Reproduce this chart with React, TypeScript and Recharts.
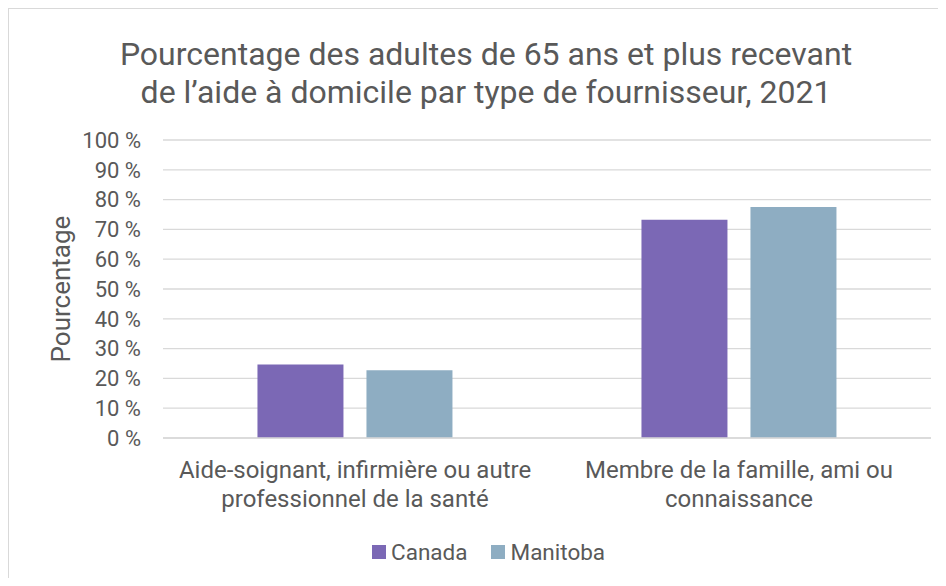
import React from 'react';
import { BarChart, Bar, XAxis, YAxis, CartesianGrid } from 'recharts';

const categories = [
  ['Aide-soignant, infirmière ou autre', 'professionnel de la santé'],
  ['Membre de la famille, ami ou', 'connaissance'],
];
const canadaValues = [24.7, 73.2];
const manitobaValues = [22.7, 77.5];
const yTicks = [0, 10, 20, 30, 40, 50, 60, 70, 80, 90, 100];
const seriesNames = ['Canada', 'Manitoba'];
const seriesColors = ['#7B68B5', '#8EADC2'];

const data = categories.map((c, i) => ({
  name: c.join('\n'),
  Canada: canadaValues[i],
  Manitoba: manitobaValues[i],
}));

const FONT = 'Roboto, sans-serif';
const TEXT = '#595959';

const XTick = (props: any) => {
  const { x, y, payload } = props;
  const lines = String(payload.value).split('\n');
  return (
    <g transform={`translate(${x},${y})`}>
      {lines.map((l, i) => (
        <text key={i} x={0} y={0} dy={40 + i * 29} textAnchor="middle" fill={TEXT} fontSize={24} fontFamily={FONT}>
          {l}
        </text>
      ))}
    </g>
  );
};

export default function App() {
  return (
    <div style={{ position: 'relative', width: 946, height: 586, margin: -8, background: '#fff', overflow: 'hidden' }}>
      <div style={{ position: 'absolute', left: 8, top: 8, width: 960, height: 600, borderLeft: '1px solid #D9D9D9', borderTop: '1px solid #D9D9D9', boxSizing: 'border-box' }} />
      <svg width={946} height={120} style={{ position: 'absolute', left: 0, top: 0 }}>
        <text x={486} y={65} textAnchor="middle" fill={TEXT} fontSize={32} fontFamily={FONT}>
          Pourcentage des adultes de 65 ans et plus recevant
        </text>
        <text x={486} y={103} textAnchor="middle" fill={TEXT} fontSize={32} fontFamily={FONT}>
          de l’aide à domicile par type de fournisseur, 2021
        </text>
      </svg>
      <svg width={60} height={586} style={{ position: 'absolute', left: 30, top: 0 }}>
        <text x={0} y={0} transform="translate(31,289) rotate(-90)" textAnchor="middle" dominantBaseline="central" fill={TEXT} fontSize={26} fontFamily={FONT}>
          Pourcentage
        </text>
      </svg>
      <div style={{ position: 'absolute', left: 0, top: 0 }}>
        <BarChart
          width={946}
          height={586}
          data={data}
          margin={{ top: 140, right: 15, bottom: 118, left: 83 }}
          barCategoryGap="24.6%"
          barGap={23}
        >
          <CartesianGrid vertical={false} stroke="#D9D9D9" strokeWidth={1.3} />
          <XAxis
            dataKey="name"
            axisLine={{ stroke: '#D9D9D9', strokeWidth: 1.3 }}
            tickLine={false}
            tickSize={0}
            tickMargin={0}
            tick={<XTick />}
            interval={0}
            height={30}
          />
          <YAxis
            width={80}
            domain={[0, 100]}
            ticks={yTicks}
            interval={0}
            axisLine={false}
            tickLine={false}
            tickSize={0}
            tickMargin={22}
            tickFormatter={(v: number) => `${v} %`}
            tick={{ fill: TEXT, fontSize: 22, fontFamily: FONT }}
          />
          {seriesNames.map((n, i) => (
            <Bar key={n} dataKey={n} fill={seriesColors[i]} isAnimationActive={false} />
          ))}
        </BarChart>
      </div>
      <div style={{ position: 'absolute', left: 372, top: 538, height: 28, display: 'flex', alignItems: 'center', fontFamily: FONT, fontSize: 22.5, color: TEXT }}>
        {seriesNames.map((n, i) => (
          <div key={n} style={{ display: 'flex', alignItems: 'center', marginRight: 24 }}>
            <div style={{ width: 14, height: 14, background: seriesColors[i], marginRight: 5 }} />
            <span>{n}</span>
          </div>
        ))}
      </div>
    </div>
  );
}
